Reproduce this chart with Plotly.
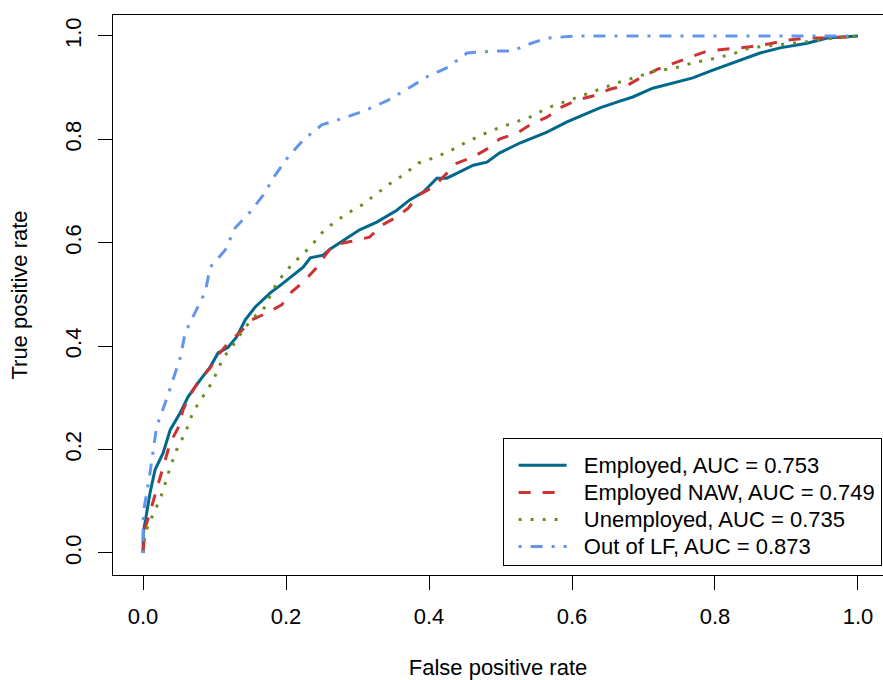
import plotly.graph_objects as go

# Employed
emp_fpr = [0, 0.0004, 0.0098, 0.0168, 0.028, 0.038, 0.052, 0.063, 0.080, 0.094, 0.105, 0.119, 0.131, 0.143,
           0.157, 0.178, 0.196, 0.224, 0.234, 0.252, 0.262, 0.280, 0.303, 0.327, 0.355, 0.373, 0.392, 0.411,
           0.425, 0.443, 0.462, 0.481, 0.499, 0.527, 0.565, 0.593, 0.615, 0.639, 0.667, 0.685, 0.713, 0.741,
           0.769, 0.797, 0.825, 0.845, 0.863, 0.891, 0.929, 0.957, 1.0]
emp_tpr = [0, 0.039, 0.116, 0.161, 0.193, 0.238, 0.271, 0.302, 0.335, 0.360, 0.387, 0.398, 0.418, 0.451,
           0.476, 0.503, 0.522, 0.553, 0.571, 0.576, 0.588, 0.605, 0.625, 0.640, 0.663, 0.683, 0.698, 0.725,
           0.725, 0.737, 0.750, 0.756, 0.774, 0.793, 0.814, 0.834, 0.847, 0.861, 0.874, 0.882, 0.899, 0.909,
           0.919, 0.934, 0.948, 0.959, 0.967, 0.977, 0.986, 0.996, 1.0]

# Employed NAW
naw_fpr = [0, 0.003, 0.0098, 0.024, 0.038, 0.049, 0.056, 0.066, 0.077, 0.094, 0.105, 0.119, 0.136, 0.152,
           0.173, 0.194, 0.208, 0.224, 0.241, 0.255, 0.266, 0.292, 0.317, 0.334, 0.355, 0.371, 0.385, 0.406,
           0.422, 0.439, 0.462, 0.483, 0.499, 0.523, 0.541, 0.565, 0.586, 0.607, 0.629, 0.653, 0.678, 0.698,
           0.720, 0.744, 0.768, 0.789, 0.817, 0.849, 0.877, 0.901, 0.929, 0.961, 1.0]
naw_tpr = [0, 0.048, 0.079, 0.147, 0.213, 0.242, 0.277, 0.306, 0.331, 0.358, 0.383, 0.406, 0.427, 0.451,
           0.464, 0.480, 0.505, 0.524, 0.549, 0.576, 0.596, 0.603, 0.611, 0.634, 0.650, 0.667, 0.692, 0.708,
           0.731, 0.754, 0.766, 0.783, 0.801, 0.812, 0.828, 0.843, 0.863, 0.876, 0.884, 0.897, 0.905, 0.921,
           0.936, 0.948, 0.959, 0.971, 0.975, 0.979, 0.985, 0.992, 0.996, 0.996, 1.0]

# Unemployed
une_fpr = [0, 0.003, 0.007, 0.017, 0.027, 0.038, 0.048, 0.059, 0.070, 0.084, 0.097, 0.112, 0.126, 0.140,
           0.154, 0.168, 0.187, 0.201, 0.215, 0.234, 0.250, 0.266, 0.287, 0.306, 0.327, 0.345, 0.364, 0.385,
           0.406, 0.427, 0.450, 0.474, 0.497, 0.517, 0.541, 0.566, 0.593, 0.615, 0.639, 0.667, 0.691, 0.716,
           0.744, 0.769, 0.797, 0.824, 0.849, 0.877, 0.905, 0.937, 0.965, 1.0]
une_tpr = [0, 0.035, 0.054, 0.083, 0.116, 0.166, 0.203, 0.232, 0.273, 0.302, 0.331, 0.377, 0.402, 0.431,
           0.455, 0.470, 0.522, 0.547, 0.567, 0.592, 0.619, 0.638, 0.658, 0.673, 0.696, 0.714, 0.731, 0.754,
           0.764, 0.776, 0.793, 0.809, 0.822, 0.832, 0.843, 0.861, 0.874, 0.886, 0.897, 0.911, 0.921, 0.932,
           0.938, 0.948, 0.956, 0.965, 0.977, 0.981, 0.986, 0.990, 0.996, 1.0]

# Out of LF
olf_fpr = [0, 0.0004, 0.0098, 0.019, 0.031, 0.042, 0.052, 0.059, 0.073, 0.087, 0.094, 0.115, 0.129, 0.150,
           0.168, 0.185, 0.203, 0.224, 0.250, 0.280, 0.313, 0.343, 0.369, 0.397, 0.427, 0.453, 0.490, 0.517,
           0.537, 0.565, 0.607, 1.0]
olf_tpr = [0, 0.077, 0.155, 0.244, 0.290, 0.335, 0.377, 0.426, 0.466, 0.505, 0.553, 0.586, 0.629, 0.660,
           0.692, 0.731, 0.766, 0.799, 0.828, 0.841, 0.857, 0.876, 0.897, 0.921, 0.940, 0.967, 0.971, 0.971,
           0.983, 0.996, 1.0, 1.0]

names = ["Employed, AUC = 0.753", "Employed NAW, AUC = 0.749",
         "Unemployed, AUC = 0.735", "Out of LF, AUC = 0.873"]
x_ticks = [0.0, 0.2, 0.4, 0.6, 0.8, 1.0]
tick_text = ["0.0", "0.2", "0.4", "0.6", "0.8", "1.0"]

FONT = "Liberation Sans, Arial, Helvetica, sans-serif"
PAD = "\u00a0\u00a0"

fig = go.Figure()
series = [
    (emp_fpr, emp_tpr, "#00688B", "solid"),
    (naw_fpr, naw_tpr, "#CD3333", "12px,12px"),
    (une_fpr, une_tpr, "#6B8E23", "3px,9px"),
    (olf_fpr, olf_tpr, "#6495ED", "3px,9px,12px,9px"),
]
for (x, y, c, d), n in zip(series, names):
    label = '<span style="font-size:22px">' + PAD + n + "</span>"
    fig.add_trace(go.Scatter(x=x, y=y, mode="lines", name=label,
                             line=dict(color=c, width=3, dash=d)))

axis_common = dict(showgrid=False, zeroline=False, showline=True, linecolor="black",
                   linewidth=1, ticks="outside", ticklen=14, tickwidth=1,
                   tickcolor="black", tickvals=x_ticks, ticktext=tick_text,
                   automargin=False, ticklabelstandoff=8,
                   tickfont=dict(size=22, color="black", family=FONT))

fig.update_layout(
    width=883, height=680,
    margin=dict(l=113, r=0, t=15, b=105),
    plot_bgcolor="white", paper_bgcolor="white",
    font=dict(family=FONT, size=22, color="black"),
    xaxis=dict(range=[-0.042, 1.035], mirror=True,
               title=dict(text="False positive rate", standoff=35, font=dict(size=22)),
               **axis_common),
    yaxis=dict(range=[-0.0426, 1.0406], tickangle=-90, mirror=False,
               title=dict(text="True positive rate", standoff=27, font=dict(size=22)),
               **axis_common),
    legend=dict(x=0.506, y=0.2446, xanchor="left", yanchor="top", bgcolor="white",
                bordercolor="black", borderwidth=1, font=dict(size=18.5, color="black"),
                title=dict(text="\u00a0", font=dict(size=6)),
                tracegroupgap=0, itemwidth=48, indentation=10),
    showlegend=True,
)

fig.write_html("out.html", config={"displayModeBar": False},
               post_script="document.body.style.margin='0';document.body.style.overflow='hidden';")
